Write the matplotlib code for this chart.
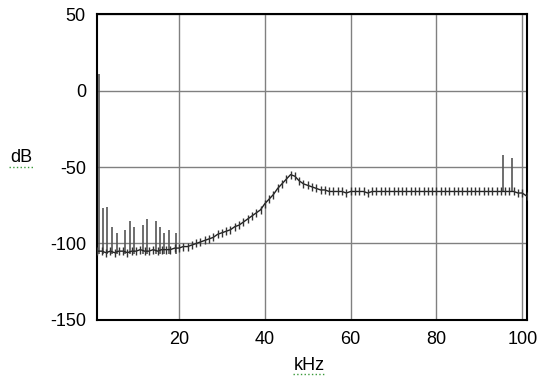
"""
スペクトル (dB vs kHz) を再現する
"""
import matplotlib
matplotlib.use("Agg")
import matplotlib.pyplot as plt
import numpy as np

plt.rcParams["font.family"] = ["Liberation Sans", "DejaVu Sans"]
plt.rcParams["axes.unicode_minus"] = False

# 周波数 (kHz) とレベル (dB)
freq = np.arange(1, 102)
level = [
    -105, -105, -106, -105, -106, -105, -105, -106, -105, -105,   # 1-10
    -104, -105, -105, -104, -105, -104, -104, -104, -103, -103,   # 11-20
    -102, -102, -101, -100, -99, -98, -97, -96, -94, -93,         # 21-30
    -92, -91, -89, -88, -86, -84, -82, -80, -78, -74,             # 31-40
    -71, -68, -64, -61, -58, -55, -56, -59, -61, -62,             # 41-50
    -63, -64, -65, -65, -66, -66, -66, -66, -67, -66,             # 51-60
    -66, -66, -66, -67, -66, -66, -66, -66, -66, -66,             # 61-70
    -66, -66, -66, -66, -66, -66, -66, -66, -66, -66,             # 71-80
    -66, -66, -66, -66, -66, -66, -66, -66, -66, -66,             # 81-90
    -66, -66, -66, -66, -66, -66, -66, -66, -67, -67,             # 91-100
    -69,                                                          # 101
]

# スパイク (kHz, 先端の dB)
spike_freq = [1.3, 2.3, 3.2, 4.4, 5.5, 7.4, 8.6, 9.5, 11.6, 12.5,
              14.6, 15.6, 16.5, 17.7, 19.3, 95.5, 97.6]
spike_top = [11, -77, -76, -89, -93, -91, -85, -89, -88, -84,
             -85, -89, -93, -91, -93, -42, -44]
spike_base = [-107] * 15 + [-66, -66]

x_ticks = [20, 40, 60, 80, 100]
y_ticks = [50, 0, -50, -100, -150]

fig = plt.figure(figsize=(5.48, 3.86), dpi=100)
ax = fig.add_axes([0.177, 0.171, 0.7847, 0.7927])

ax.vlines(spike_freq, spike_base, spike_top, colors="#555555", linewidth=1.2, zorder=3)
ax.plot(freq, level, color="#222222", linewidth=1.0, marker="|",
        markersize=6, markeredgewidth=1.0, markeredgecolor="#333333", zorder=4)

ax.set_xlim(0.9, 101.1)
ax.set_ylim(-150, 50)
ax.set_xticks(x_ticks)
ax.set_yticks(y_ticks)
ax.tick_params(length=0, labelsize=13, pad=8)
ax.grid(True, color="#808080", linewidth=1.0)
ax.set_axisbelow(True)
for s in ax.spines.values():
    s.set_linewidth(1.5)
    s.set_color("black")

fig.text(21 / 548, 1 - 158 / 386, "dB", fontsize=13, ha="center", va="center")
fig.text(309 / 548, 1 - 365 / 386, "kHz", fontsize=13, ha="center", va="center")
# 下線 (スペルチェックの波線)
fig.add_artist(plt.Line2D([9 / 548, 33 / 548], [1 - 167 / 386] * 2,
                          color="#3a9a3a", linewidth=1, linestyle=":"))
fig.add_artist(plt.Line2D([293 / 548, 326 / 548], [1 - 374 / 386] * 2,
                          color="#3a9a3a", linewidth=1, linestyle=":"))

fig.savefig("out.png", dpi=100)
